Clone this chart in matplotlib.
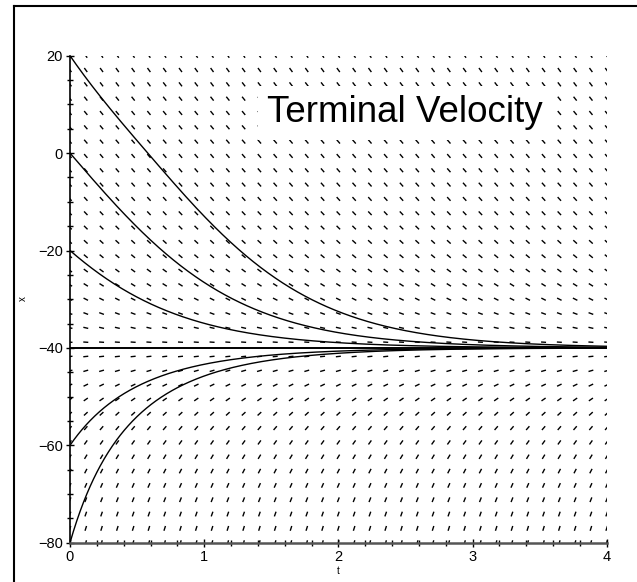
import matplotlib
matplotlib.use("Agg")
import matplotlib.pyplot as plt
import numpy as np
from matplotlib.collections import LineCollection
from matplotlib.lines import Line2D

plt.rcParams.update({
    "font.family": ["Liberation Sans", "DejaVu Sans"],
    "figure.facecolor": "white",
})

# model: dx/dt = -G - C*x*|x|  (terminal value -40)
G = 32.0
C = 0.02
INITIAL_X = [20, 0, -20, -40, -60, -80]
T_RANGE = (0, 4)
X_RANGE = (-80, 20)
N_ARROWS = 35  # grid of 35 x 35 slope marks
X_TICKS = [0, 1, 2, 3, 4]
Y_TICKS = [-80, -60, -40, -20, 0, 20]
TITLE = "Terminal Velocity"


def rhs(x):
    return -G - C * x * np.abs(x)


def solve(x0, t_end, n=800):
    # plain RK4
    h = t_end / n
    ts = np.linspace(0, t_end, n + 1)
    xs = np.empty(n + 1)
    xs[0] = x0
    for i in range(n):
        x = xs[i]
        k1 = rhs(x)
        k2 = rhs(x + 0.5 * h * k1)
        k3 = rhs(x + 0.5 * h * k2)
        k4 = rhs(x + h * k3)
        xs[i + 1] = x + h / 6 * (k1 + 2 * k2 + 2 * k3 + k4)
    return ts, xs


W, H = 637, 582
fig = plt.figure(figsize=(W / 100, H / 100), dpi=100)
ax_l, ax_r, ax_t, ax_b = 70, 606.7, 55.7, 542.7
ax = fig.add_axes([ax_l / W, 1 - ax_b / H, (ax_r - ax_l) / W, (ax_b - ax_t) / H])
ax.set_xlim(*T_RANGE)
ax.set_ylim(*X_RANGE)

# slope marks, same length on screen
px_per_t = (ax_r - ax_l) / (T_RANGE[1] - T_RANGE[0])
px_per_x = (ax_b - ax_t) / (X_RANGE[1] - X_RANGE[0])
L = 5.0
tg, xg = np.meshgrid(np.linspace(*T_RANGE, N_ARROWS), np.linspace(*X_RANGE, N_ARROWS))
s = rhs(xg)
dx_px = np.ones_like(s) * px_per_t
dy_px = s * px_per_x
norm = np.hypot(dx_px, dy_px)
dt = (dx_px / norm) * L / 2 / px_per_t
dv = (dy_px / norm) * L / 2 / px_per_x
segs = np.stack([np.stack([tg - dt, xg - dv], -1), np.stack([tg + dt, xg + dv], -1)], -2)
segs = segs.reshape(-1, 2, 2)
ax.add_collection(LineCollection(segs, colors="black", linewidths=1.0))

for x0 in INITIAL_X:
    ts, xs = solve(x0, T_RANGE[1])
    ax.plot(ts, xs, color="black", lw=1.4 if x0 == -40 else 1.0, clip_on=True)

# title sits on a white box that hides the slope marks behind it
fig.text(405 / W, 1 - 113 / H, TITLE, fontsize=26.5, ha="center", va="center",
         bbox=dict(facecolor="white", edgecolor="none", boxstyle="square,pad=0.25"))

for side in ("top", "right"):
    ax.spines[side].set_visible(False)
ax.spines["left"].set_linewidth(1.2)
ax.spines["bottom"].set_linewidth(1.8)
ax.spines["bottom"].set_color("#555555")
ax.set_xticks(X_TICKS)
ax.set_yticks(Y_TICKS)
ax.set_xticks(np.arange(0, 4.01, 0.2), minor=True)
ax.set_yticks(np.arange(-80, 20.1, 5), minor=True)
ax.tick_params(which="major", direction="inout", length=6, width=1, labelsize=10.5, pad=2)
ax.tick_params(which="minor", direction="inout", length=4, width=1)

# axis names placed like the reference
fig.text(23 / W, 1 - 299 / H, "x", fontsize=7, ha="center", va="center", rotation=90)
fig.text(338 / W, 1 - 571 / H, "t", fontsize=7, ha="center", va="center")

# partial outer frame
fig.add_artist(Line2D([13.5 / W, 1], [1 - 5.7 / H, 1 - 5.7 / H], color="black", lw=1.5))
fig.add_artist(Line2D([13.5 / W, 13.5 / W], [0, 1 - 5.7 / H], color="black", lw=1.5))

fig.savefig("out.png", dpi=100)
